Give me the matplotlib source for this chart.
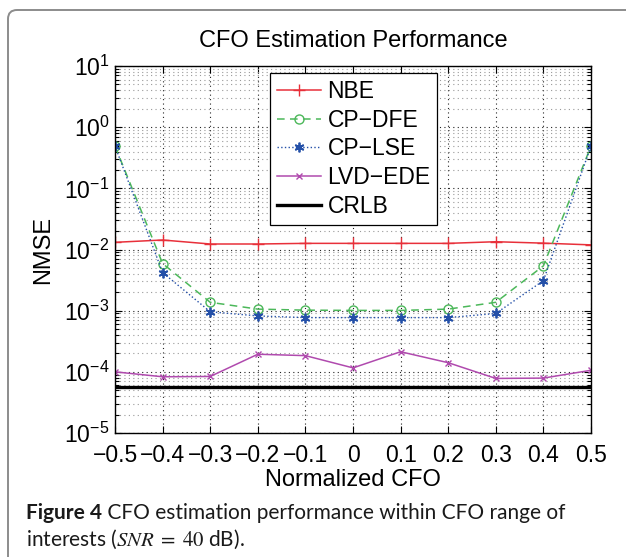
import matplotlib
matplotlib.use("Agg")
import matplotlib.pyplot as plt
import numpy as np
from matplotlib.patches import FancyBboxPatch
from matplotlib.transforms import IdentityTransform
from matplotlib.ticker import FixedLocator, LogLocator, NullFormatter

plt.rcParams['font.family'] = ['Liberation Sans', 'DejaVu Sans']
plt.rcParams['mathtext.fontset'] = 'stix'

cfo = [-0.5, -0.4, -0.3, -0.2, -0.1, 0.0, 0.1, 0.2, 0.3, 0.4, 0.5]
nbe = [0.0131, 0.0143, 0.0123, 0.0123, 0.0126, 0.0126, 0.0126, 0.0126, 0.0134, 0.0127, 0.0119]
cp_dfe = [0.49, 0.0059, 0.00137, 0.00106, 0.00102, 0.00101, 0.00101, 0.00106, 0.00137, 0.0054, 0.49]
cp_lse = [0.49, 0.0042, 0.00096, 0.00082, 0.00077, 0.00077, 0.00077, 0.00077, 0.0009, 0.0031, 0.49]
lvd_ede = [1.0e-4, 8.3e-5, 8.4e-5, 1.94e-4, 1.84e-4, 1.16e-4, 2.13e-4, 1.41e-4, 7.8e-5, 7.9e-5, 1.06e-4]
crlb = [5.6e-5] * len(cfo)

xtick_labels = ['\u22120.5', '\u22120.4', '\u22120.3', '\u22120.2', '\u22120.1',
                '0', '0.1', '0.2', '0.3', '0.4', '0.5']
ytick_exps = [-5, -4, -3, -2, -1, 0, 1]

fig = plt.figure(figsize=(6.26, 5.57), dpi=100)
ax = fig.add_axes([115 / 626, 1 - 433 / 557, 476 / 626, 367 / 557])

ax.semilogy(cfo, nbe, '-', color='#e8303a', marker='+', ms=8, mew=1.0, lw=1.1, label='NBE')
ax.semilogy(cfo, cp_dfe, '--', color='#4cb85a', marker='o', ms=6.5, mfc='none', mew=1.0,
            lw=1.1, dashes=(5, 3.5), label='CP\u2212DFE')
ax.semilogy(cfo, cp_lse, ':', color='#2450a8', marker=(6, 2, 0), ms=7, mew=1.3, lw=1.0,
            label='CP\u2212LSE')
ax.semilogy(cfo, lvd_ede, '-', color='#b04aae', marker='x', ms=5, mew=1.0, lw=1.1,
            label='LVD\u2212EDE')
ax.semilogy(cfo, crlb, '-', color='black', lw=2.4, label='CRLB')

ax.set_xlim(-0.5, 0.5)
ax.set_ylim(1e-5, 1e1)
ax.xaxis.set_major_locator(FixedLocator(cfo))
ax.set_xticklabels(xtick_labels)
ax.set_yticks([10.0 ** e for e in ytick_exps])
ax.set_yticklabels([r'$\mathregular{10^{%d}}$' % e for e in ytick_exps])
ax.yaxis.set_minor_locator(LogLocator(base=10, subs=np.arange(2, 10)))
ax.yaxis.set_minor_formatter(NullFormatter())

ax.tick_params(which='both', direction='in', top=True, right=True, labelsize=16.5, width=0.8)
ax.tick_params(which='major', length=5)
ax.tick_params(which='minor', length=3)
ax.tick_params(axis='x', pad=8)
ax.tick_params(axis='y', pad=4)
ax.grid(True, which='major', linestyle=(0, (1, 3)), color='#222222', lw=0.8)
ax.grid(True, which='minor', axis='y', linestyle=(0, (1, 3)), color='#999999', lw=0.8)
for s in ax.spines.values():
    s.set_linewidth(1.0)

ax.set_title('CFO Estimation Performance', fontsize=17, pad=14)
ax.set_xlabel('Normalized CFO', fontsize=17, labelpad=1)
ax.set_ylabel('NMSE', fontsize=17, labelpad=7)

leg = ax.legend(loc='upper left', bbox_to_anchor=(0.326, 0.981), fontsize=16.5,
                fancybox=False, edgecolor='black', framealpha=1, handlelength=1.9,
                handletextpad=0.3, labelspacing=0.25, borderpad=0.3, borderaxespad=0)
leg.get_frame().set_linewidth(0.9)

# page frame around figure + caption
frame = FancyBboxPatch((8, -30), 700, 557 - 10 + 30, boxstyle='round,pad=0,rounding_size=9',
                       transform=IdentityTransform(), fc='none', ec='#8c8c8c', lw=1.4)
fig.add_artist(frame)

cap_font = ['Lato', 'DejaVu Sans']
t1 = fig.text(26 / 626, 1 - 513 / 557, 'Figure 4', fontsize=15, fontweight='bold',
              family=cap_font, va='center', color='#1a1a1a')
ax.annotate(' CFO estimation performance within CFO range of', xy=(1, 0.5), xycoords=t1,
            va='center', ha='left', fontsize=15, family=cap_font,
            color='#1a1a1a', annotation_clip=False)
fig.text(26 / 626, 1 - 539 / 557, r'interests ($SNR\;=\;40$ dB).', fontsize=15,
         family=cap_font, va='center', color='#1a1a1a')

fig.savefig('out.png', dpi=100)
